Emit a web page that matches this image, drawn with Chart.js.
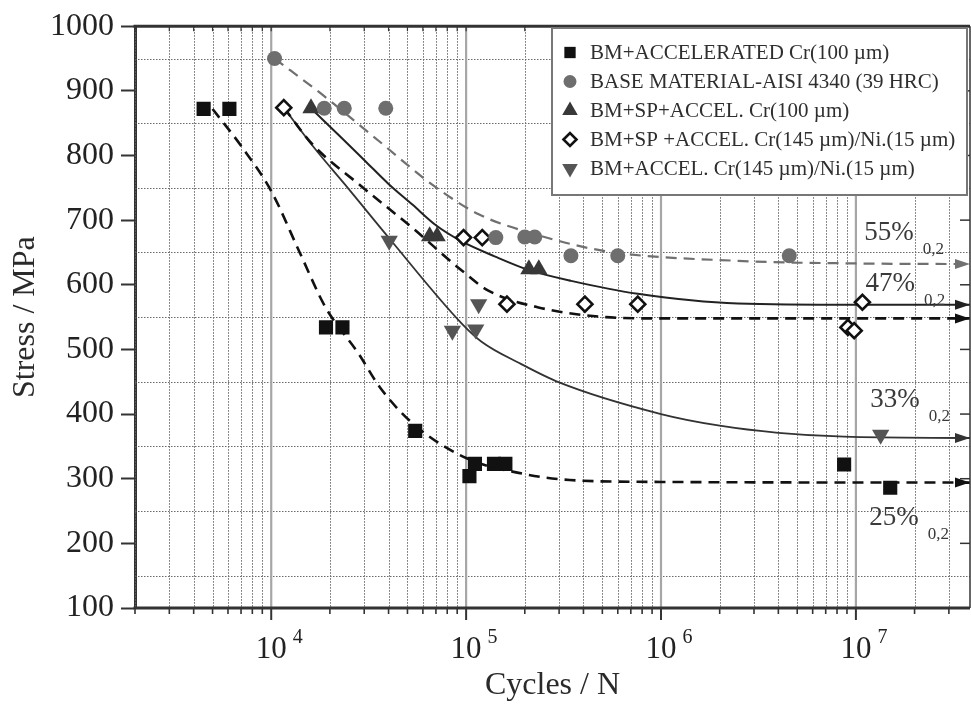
<!DOCTYPE html>
<html>
<head>
<meta charset="utf-8">
<script src="https://cdn.jsdelivr.net/npm/chart.js@4.4.1/dist/chart.umd.min.js"></script>
<style>
  html, body { margin: 0; padding: 0; background: #fff; }
</style>
</head>
<body>
<canvas id="snChart" width="971" height="708"></canvas>
<script>
// axis limits / ticks
const xMin = 2000, xMax = 3.85e7;
const decadeExps = [4, 5, 6, 7];
const yGridLines = [150, 250, 350, 450, 550, 650, 750, 850, 950];

// legend labels
const seriesNames = [
    'BM+ACCELERATED Cr(100 \u00b5m)',
    'BASE MATERIAL-AISI 4340 (39 HRC)',
    'BM+SP+ACCEL. Cr(100 \u00b5m)',
    'BM+SP +ACCEL. Cr(145 \u00b5m)/Ni.(15 \u00b5m)',
    'BM+ACCEL. Cr(145 \u00b5m)/Ni.(15 \u00b5m)'
];

// measured points
const sqCycles = [4500, 6100, 19100, 23200, 54800, 104000, 111000, 139000, 159000, 8.7e6, 1.5e7];
const sqStress = [872, 872, 534, 534, 374, 304, 323, 323, 323, 322, 286];
const bmCycles = [10400, 18700, 23700, 38700, 142000, 200000, 225000, 345000, 600000, 4.55e6];
const bmStress = [950, 873, 873, 873, 673, 674, 674, 645, 645, 645];
const triCycles = [16000, 65000, 71000, 210000, 236000];
const triStress = [873, 675, 675, 624, 624];
const diaCycles = [11600, 97000, 121000, 162000, 407000, 760000, 9.1e6, 9.8e6, 1.08e7];
const diaStress = [874, 673, 673, 570, 570, 570, 534, 529, 573];
const invCycles = [40300, 85000, 112000, 116000, 1.34e7];
const invStress = [668, 529, 531, 570, 368];

// fitted curves
const sqFitCycles = [5000, 7000, 10000, 14000, 19000, 28000, 36000, 53000, 100000, 186000, 340000, 1e6, 3.85e7];
const sqFitStress = [872, 815, 745, 650, 565, 494, 442, 386, 332, 309, 298, 295, 294];
const bmFitCycles = [10400, 18300, 35800, 67000, 116000, 227000, 520000, 2.48e6, 1e7, 3.85e7];
const bmFitStress = [950, 894, 822, 755, 709, 678, 652, 637, 633, 632];
const triFitCycles = [16000, 23000, 30700, 40000, 53000, 70000, 95000, 140000, 209000, 346000, 760000, 2.48e6, 1e7, 3.85e7];
const triFitStress = [873, 827, 790, 756, 724, 692, 667, 644, 623, 606, 586, 571, 569, 569];
const diaFitCycles = [11600, 16300, 28300, 53000, 95000, 130000, 235000, 520000, 1e6, 3.85e7];
const diaFitStress = [874, 817, 755, 688, 622, 591, 565, 550, 548, 548];
const invFitCycles = [11600, 16300, 25000, 40300, 95000, 120000, 190000, 300000, 1e6, 2e6, 4e6, 8.7e6, 3.85e7];
const invFitStress = [874, 815, 748, 672, 540, 512, 478, 449, 400, 382, 371, 365, 363];

// endurance annotations
const noteLabels = ['55%', '47%', '33%', '25%'];
const noteCycles = [1.105e7, 1.12e7, 1.186e7, 1.172e7];
const noteStress = [669, 591, 411, 229];

const serif = "'Liberation Serif', 'DejaVu Serif', serif";

function pts(xs, ys) {
    return xs.map((x, i) => ({ x: x, y: ys[i] }));
}

function marker(label, xs, ys, style, color, radius, extra) {
    return Object.assign({
        label: label,
        data: pts(xs, ys),
        showLine: false,
        pointStyle: style,
        pointRadius: radius,
        pointBackgroundColor: color,
        pointBorderColor: color,
        pointBorderWidth: 0
    }, extra || {});
}

function curve(xs, ys, color, width, dash) {
    return {
        label: '',
        data: pts(xs, ys),
        showLine: true,
        fill: false,
        borderColor: color,
        borderWidth: width,
        borderDash: dash,
        pointRadius: 0,
        cubicInterpolationMode: 'monotone',
        arrow: true
    };
}

const datasets = [
    marker(seriesNames[0], sqCycles, sqStress, 'rect', '#111', 10),
    marker(seriesNames[1], bmCycles, bmStress, 'circle', '#6e6e6e', 7.5),
    marker(seriesNames[2], triCycles, triStress, 'triangle', '#383838', 10),
    marker(seriesNames[3], diaCycles, diaStress, 'rectRot', '#fff', 7.5, { pointBorderColor: '#111', pointBorderWidth: 2.6 }),
    marker(seriesNames[4], invCycles, invStress, 'triangle', '#555', 10, { pointRotation: 180 }),
    curve(sqFitCycles, sqFitStress, '#111', 2.6, [11, 7]),
    curve(bmFitCycles, bmFitStress, '#707070', 2.2, [11, 7]),
    curve(triFitCycles, triFitStress, '#222', 2, []),
    curve(diaFitCycles, diaFitStress, '#111', 2.6, [11, 7]),
    curve(invFitCycles, invFitStress, '#333', 1.8, [])
];

function xTickValues() {
    const vals = [];
    for (let e = 3; e <= 7; e++) {
        for (let k = 1; k <= 9; k++) {
            const v = k * Math.pow(10, e);
            if (v >= xMin && v <= xMax) vals.push({ v: v, major: k === 1 });
        }
    }
    return vals;
}

function seg(ctx, x1, y1, x2, y2) {
    ctx.beginPath();
    ctx.moveTo(x1, y1);
    ctx.lineTo(x2, y2);
    ctx.stroke();
}

const framePlugin = {
    id: 'frame',
    beforeDatasetsDraw(chart) {
        const { ctx, chartArea: a, scales: { x, y } } = chart;
        ctx.save();
        ctx.beginPath();
        ctx.rect(a.left, a.top, a.right - a.left, a.bottom - a.top);
        ctx.clip();
        ctx.strokeStyle = '#6a6a6a';
        ctx.lineWidth = 1;
        ctx.setLineDash([1.5, 1.5]);
        yGridLines.forEach(v => {
            const py = Math.round(y.getPixelForValue(v)) + 0.5;
            seg(ctx, a.left, py, a.right, py);
        });
        xTickValues().forEach(t => {
            const px = x.getPixelForValue(t.v);
            if (t.major) {
                ctx.setLineDash([]);
                ctx.strokeStyle = '#a6a6a6';
                ctx.lineWidth = 2.2;
            } else {
                ctx.setLineDash([1.5, 1.5]);
                ctx.strokeStyle = '#666';
                ctx.lineWidth = 1;
            }
            const rx = t.major ? px : Math.round(px) + 0.5;
            seg(ctx, rx, a.top, rx, a.bottom);
        });
        ctx.restore();
    },
    afterDatasetsDraw(chart) {
        const { ctx, chartArea: a, scales: { x, y } } = chart;
        ctx.save();

        // arrow heads at the end of the fitted curves
        chart.data.datasets.forEach((ds, i) => {
            if (!ds.arrow) return;
            const pts = chart.getDatasetMeta(i).data;
            const p = pts[pts.length - 1];
            ctx.fillStyle = ds.borderColor;
            ctx.beginPath();
            ctx.moveTo(p.x, p.y);
            ctx.lineTo(p.x - 15, p.y - 5);
            ctx.lineTo(p.x - 15, p.y + 5);
            ctx.closePath();
            ctx.fill();
        });

        // annotations
        ctx.fillStyle = '#3a3a3a';
        ctx.textBaseline = 'alphabetic';
        ctx.textAlign = 'left';
        noteLabels.forEach((lab, i) => {
            const px = x.getPixelForValue(noteCycles[i]);
            const py = y.getPixelForValue(noteStress[i]);
            ctx.font = '27px ' + serif;
            ctx.fillText(lab, px, py);
            const w = ctx.measureText(lab).width;
            ctx.font = '17px ' + serif;
            ctx.fillText('0,2', px + w + 9, py + 14);
        });

        // frame: top, right, bottom
        ctx.strokeStyle = '#333';
        ctx.setLineDash([]);
        ctx.lineWidth = 3;
        seg(ctx, a.left - 1.5, a.top, a.right, a.top);
        seg(ctx, a.left - 1.5, a.bottom, a.right, a.bottom);
        ctx.lineWidth = 1.5;
        seg(ctx, a.right, a.top, a.right, a.bottom);

        // x ticks (outside bottom) and small ticks on top
        xTickValues().forEach(t => {
            const px = x.getPixelForValue(t.v);
            ctx.lineWidth = t.major ? 2 : 1.6;
            seg(ctx, px, a.bottom, px, a.bottom + (t.major ? 12 : 6));
            ctx.lineWidth = 1.2;
            seg(ctx, px, a.top, px, a.top + 5);
        });
        // right side ticks
        ctx.lineWidth = 1.5;
        y.ticks.forEach(t => {
            const py = y.getPixelForValue(t.value);
            seg(ctx, a.right - 10, py, a.right, py);
        });

        // decade labels 10^n
        ctx.fillStyle = '#222';
        decadeExps.forEach(e => {
            const px = x.getPixelForValue(Math.pow(10, e));
            ctx.font = '31px ' + serif;
            ctx.textAlign = 'center';
            ctx.fillText('10', px, a.bottom + 50);
            const w = ctx.measureText('10').width;
            ctx.font = '20px ' + serif;
            ctx.textAlign = 'left';
            ctx.fillText(String(e), px + w / 2 + 6, a.bottom + 35);
        });
        ctx.restore();
    },
    afterDraw(chart) {
        const { ctx } = chart;
        const H = Chart.helpers;
        ctx.save();
        // legend box
        const bx = 552, by = 28, bw = 415, bh = 167;
        ctx.fillStyle = '#fff';
        ctx.fillRect(bx, by, bw, bh);
        ctx.strokeStyle = '#777';
        ctx.lineWidth = 2;
        ctx.strokeRect(bx, by, bw, bh);
        const legendSizes = [8, 6.5, 9, 6.5, 9];
        ctx.font = '21px ' + serif;
        ctx.textBaseline = 'middle';
        ctx.textAlign = 'left';
        for (let i = 0; i < 5; i++) {
            const ds = chart.data.datasets[i];
            const cy = by + 24.5 + i * 29;
            ctx.fillStyle = ds.pointBackgroundColor;
            ctx.strokeStyle = ds.pointBorderColor;
            ctx.lineWidth = ds.pointBorderWidth;
            H.drawPoint(ctx, {
                pointStyle: ds.pointStyle,
                rotation: ds.pointRotation || 0,
                radius: legendSizes[i],
                borderWidth: ds.pointBorderWidth
            }, bx + 18, cy);
            ctx.fillStyle = '#2e2e2e';
            ctx.fillText(ds.label, bx + 38, cy + 1);
        }
        ctx.restore();
    }
};

const ctx = document.getElementById('snChart').getContext('2d');
const snChart = new Chart(ctx, {
    type: 'scatter',
    data: { datasets: datasets },
    options: {
        responsive: false,
        animation: false,
        layout: { autoPadding: false, padding: { top: 24, right: 1, left: 0, bottom: 0 } },
        plugins: {
            legend: { display: false },
            tooltip: { enabled: false }
        },
        scales: {
            x: {
                type: 'logarithmic',
                min: xMin,
                max: xMax,
                position: 'bottom',
                grid: { display: false },
                border: { display: false },
                ticks: { display: false },
                title: {
                    display: true,
                    text: 'Cycles / N',
                    color: '#2a2a2a',
                    font: { family: serif, size: 32 },
                    padding: { top: 0, bottom: 3 }
                },
                afterFit(scale) { scale.height = 100; }
            },
            y: {
                min: 100,
                max: 1000,
                ticks: {
                    stepSize: 100,
                    color: '#222',
                    padding: 7,
                    font: { family: serif, size: 32 },
                    callback: v => String(v)
                },
                grid: { drawOnChartArea: false, tickLength: 14, tickColor: '#333', tickWidth: 2 },
                border: { color: '#333', width: 3 },
                title: {
                    display: true,
                    text: 'Stress / MPa',
                    color: '#2a2a2a',
                    font: { family: serif, size: 32 },
                    padding: { top: 6, bottom: 0 }
                },
                afterFit(scale) { scale.width = 135; }
            }
        }
    },
    plugins: [framePlugin]
});
</script>
</body>
</html>
